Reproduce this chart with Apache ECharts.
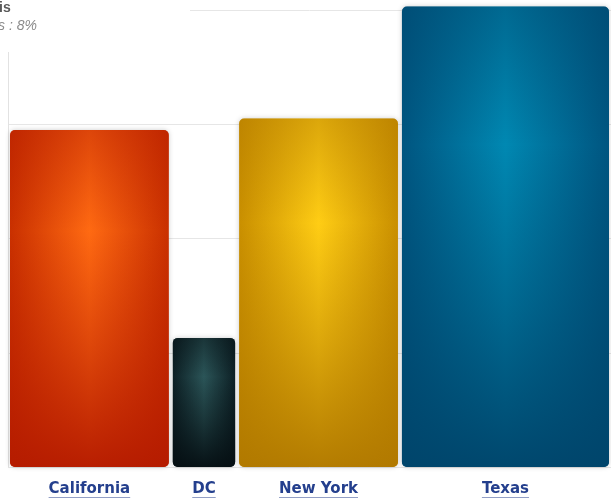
<!DOCTYPE html>
<html>
<head>
<meta charset="utf-8">
<script src="https://cdn.jsdelivr.net/npm/echarts@6/dist/echarts.min.js"></script>
<style>
html,body{margin:0;padding:0;background:#fff;}
#chart{width:611px;height:498px;}
</style>
</head>
<body>
<div id="chart"></div>
<script>
// ---- data ----
const states = ['California', 'DC', 'New York', 'Texas'];
const shares = [27, 11, 27, 35];          // column widths (x extent)
const values = [29.5, 11.3, 30.5, 40.3];  // column heights
const yTicks = [0, 10, 20, 30, 40];
const titleTail = 'is';
const subtitleTail = 's : 8%';

// colours (centre, edge, rgb of edge for overlay)
const palette = [
  ['#ff6a12', '#c93000', '180,26,0'],
  ['#2b5558', '#0d2025', '5,14,18'],
  ['#ffcd14', '#c98f00', '176,120,0'],
  ['#0088b2', '#005580', '0,68,106']
];

const labelFont = 'bold 15px "DejaVu Sans"';
const measureCtx = document.createElement('canvas').getContext('2d');
measureCtx.font = labelFont;

// build series data [start, end, value, index]
const seriesData = [];
let acc = 0;
for (let i = 0; i < states.length; i++) {
  seriesData.push([acc, acc + shares[i], values[i], i]);
  acc += shares[i];
}

const chart = echarts.init(document.getElementById('chart'), null, {renderer: 'canvas'});
chart.setOption({
  animation: false,
  grid: {left: 8, right: 0, top: 10, bottom: 31},
  xAxis: {type: 'value', min: 0, max: 100, show: false},
  yAxis: {
    type: 'value', min: yTicks[0], max: yTicks[yTicks.length - 1], interval: yTicks[1] - yTicks[0],
    axisLine: {show: true, lineStyle: {color: '#e2e2e2'}},
    axisTick: {show: false},
    axisLabel: {show: false},
    splitLine: {lineStyle: {color: '#e6e6e6'}}
  },
  graphic: [
    {type: 'rect', z: 100, shape: {x: 0, y: 0, width: 190, height: 52}, style: {fill: '#fff'}},
    {type: 'text', z: 101, x: -1, y: 1, style: {text: titleTail, font: 'bold 14px "Liberation Sans"', fill: '#5a5a5a'}},
    {type: 'text', z: 101, x: -2, y: 19, style: {text: subtitleTail, font: 'italic 14px "Liberation Sans"', fill: '#8a8a8a'}}
  ],
  series: [{
    type: 'custom',
    clip: false,
    data: seriesData,
    renderItem: function (params, api) {
      const i = api.value(3);
      const p0 = api.coord([api.value(0), 0]);
      const p1 = api.coord([api.value(1), api.value(2)]);
      const x = p0[0] + 2;
      const w = p1[0] - p0[0] - 4;
      const y = p1[1];
      const h = p0[1] - p1[1];
      const cx = (p0[0] + p1[0]) / 2;
      const name = states[i];
      const tw = measureCtx.measureText(name).width;
      const ly = p0[1] + 22;
      const rgb = palette[i][2];
      return {
        type: 'group',
        children: [
          {
            type: 'rect',
            shape: {x: x, y: y, width: w, height: h, r: 5},
            style: {
              fill: new echarts.graphic.LinearGradient(0, 0, 1, 0, [
                {offset: 0, color: palette[i][1]},
                {offset: 0.5, color: palette[i][0]},
                {offset: 1, color: palette[i][1]}
              ]),
              shadowBlur: 5,
              shadowColor: 'rgba(0,0,0,0.2)'
            }
          },
          {
            type: 'rect',
            shape: {x: x, y: y, width: w, height: h, r: 5},
            style: {
              fill: new echarts.graphic.LinearGradient(0, 0, 0, 1, [
                {offset: 0, color: 'rgba(' + rgb + ',0.45)'},
                {offset: 0.3, color: 'rgba(' + rgb + ',0)'},
                {offset: 0.65, color: 'rgba(' + rgb + ',0.45)'},
                {offset: 1, color: 'rgba(' + rgb + ',0.95)'}
              ])
            }
          },
          {
            type: 'text',
            style: {
              text: name, x: cx, y: ly, align: 'center', verticalAlign: 'middle',
              font: labelFont, fill: '#243f8d'
            }
          },
          {
            type: 'line',
            shape: {x1: cx - tw / 2, y1: ly + 9, x2: cx + tw / 2, y2: ly + 9},
            style: {stroke: '#243f8d', lineWidth: 1}
          }
        ]
      };
    }
  }]
});
</script>
</body>
</html>
